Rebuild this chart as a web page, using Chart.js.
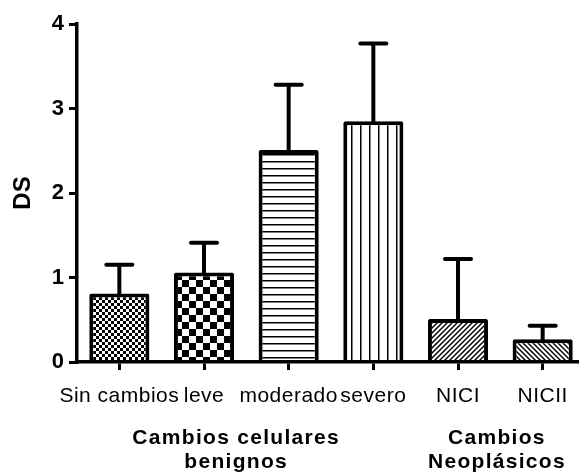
<!DOCTYPE html>
<html>
<head>
<meta charset="utf-8">
<script src="https://cdn.jsdelivr.net/npm/chart.js@4/dist/chart.umd.min.js"></script>
<style>
body{margin:0;overflow:hidden;background:#fff;}
#wrap{position:absolute;left:0;top:0;width:585px;height:476px;}
</style>
</head>
<body>
<div id="wrap"><canvas id="myChart"></canvas></div>
<script>
// datos
const categories = ['Sin cambios', 'leve', 'moderado', 'severo', 'NICI', 'NICII'];
const means = [0.81, 1.06, 2.51, 2.85, 0.51, 0.27];
const sd = [0.34, 0.35, 0.77, 0.92, 0.71, 0.16];
const yTicks = [0, 1, 2, 3, 4];
const groups = [['Cambios celulares', 'benignos'], ['Cambios', 'Neoplásicos']];

const FONT = '"Liberation Sans", Arial, sans-serif';

function makePattern(ctx, kind){
    const tile = document.createElement('canvas');
    const g = tile.getContext('2d');
    let s = 6;
    if (kind == 'bigCheck') s = 14;
    if (kind == 'hLines') s = 7;
    if (kind == 'vLines') s = 9;
    if (kind == 'diagUp' || kind == 'diagDown') s = 5;
    tile.width = s; tile.height = s;
    g.fillStyle = '#fff';
    g.fillRect(0, 0, s, s);
    g.fillStyle = '#000';
    g.strokeStyle = '#000';
    if (kind == 'smallCheck' || kind == 'bigCheck') {
        const h = s / 2;
        g.fillRect(0, 0, h, h);
        g.fillRect(h, h, h, h);
    } else if (kind == 'hLines') {
        g.fillRect(0, 0, s, 1.5);
    } else if (kind == 'vLines') {
        g.fillRect(0, 0, 1.5, s);
    } else {
        g.lineWidth = 1.4;
        const segs = kind == 'diagUp'
            ? [[-1, 1, 1, -1], [0, s, s, 0], [s - 1, s + 1, s + 1, s - 1]]
            : [[-1, s - 1, 1, s + 1], [0, 0, s, s], [s - 1, -1, s + 1, 1]];
        segs.forEach(p => {
            g.beginPath();
            g.moveTo(p[0], p[1]);
            g.lineTo(p[2], p[3]);
            g.stroke();
        });
    }
    return ctx.createPattern(tile, 'repeat');
}

const errorBars = {
    id: 'errorBars',
    afterDatasetsDraw(chart){
        const ctx = chart.ctx;
        const yScale = chart.scales.y;
        const meta = chart.getDatasetMeta(0);
        ctx.save();
        ctx.strokeStyle = '#000';
        ctx.lineWidth = 4;
        meta.data.forEach((bar, i) => {
            const top = yScale.getPixelForValue(means[i] + sd[i]);
            ctx.lineCap = 'butt';
            ctx.beginPath();
            ctx.moveTo(bar.x, bar.y + 2);
            ctx.lineTo(bar.x, top);
            ctx.stroke();
            const half = bar.width / 4 - 2;
            ctx.lineCap = 'round';
            ctx.beginPath();
            ctx.moveTo(bar.x - half, top);
            ctx.lineTo(bar.x + half, top);
            ctx.stroke();
        });
        ctx.restore();
    }
};

// el texto del original sale algo espaciado
function spaceLabels(scale, spacing){
    const base = scale.drawLabels.bind(scale);
    scale.drawLabels = function(area){
        const c = this.ctx;
        c.save();
        c.letterSpacing = spacing;
        base(area);
        c.restore();
    };
}

function getChart(){
    const canvas = document.getElementById('myChart');
    const ctx = canvas.getContext('2d');
    const fills = ['smallCheck', 'bigCheck', 'hLines', 'vLines', 'diagUp', 'diagDown']
        .map(k => makePattern(ctx, k));

    const chart = new Chart(ctx, {
        type: 'bar',
        data: {
            labels: categories,
            datasets: [{
                data: means,
                backgroundColor: fills,
                borderColor: '#000',
                borderWidth: 4,
                borderRadius: 2,
                borderSkipped: 'start',
                barPercentage: 0.71,
                categoryPercentage: 1
            }]
        },
        options: {
            responsive: true,
            maintainAspectRatio: false,
            animation: false,
            layout: { padding: { top: 24, left: 0, right: 0, bottom: 0 } },
            plugins: { legend: { display: false }, tooltip: { enabled: false } },
            scales: {
                y: {
                    min: 0,
                    max: 4,
                    afterBuildTicks: (scale) => { scale.ticks = yTicks.map(v => ({ value: v })); },
                    afterFit: (scale) => { scale.width = 77; },
                    grid: { drawOnChartArea: false, color: '#000', lineWidth: 3, tickLength: 8 },
                    border: { color: '#000', width: 3.5, z: 1 },
                    ticks: { color: '#000', padding: 5, font: { family: FONT, size: 22, weight: 'bold' } },
                    title: {
                        display: true,
                        text: 'DS',
                        color: '#000',
                        padding: { top: 9, bottom: 0 },
                        font: { family: FONT, size: 24, weight: 'bold', lineHeight: 1.2 }
                    }
                },
                x: {
                    offset: true,
                    afterFit: (scale) => { scale.height = 47; },
                    grid: { drawOnChartArea: false, offset: false, color: '#000', lineWidth: 3, tickLength: 8 },
                    border: { color: '#000', width: 3.5, z: 1 },
                    ticks: {
                        color: '#000',
                        padding: 14,
                        maxRotation: 0,
                        autoSkip: false,
                        font: { family: FONT, size: 21, lineHeight: 1.2 }
                    }
                },
                xg: {
                    type: 'linear',
                    position: 'bottom',
                    offset: false,
                    weight: 2,
                    min: -0.5,
                    max: 5.5,
                    // centro de cada grupo, en unidades de categoria
                    afterBuildTicks: (scale) => { scale.ticks = [1.38, 4.46].map(v => ({ value: v })); },
                    afterFit: (scale) => { scale.height = 67; },
                    grid: { display: false, drawTicks: false, offset: false },
                    border: { display: false },
                    ticks: {
                        color: '#000',
                        padding: 16.5,
                        maxRotation: 0,
                        autoSkip: false,
                        font: { family: FONT, size: 21, weight: 'bold', lineHeight: 1.17 },
                        callback: (v, i) => groups[i]
                    }
                }
            }
        },
        plugins: [errorBars]
    });

    spaceLabels(chart.scales.x, '0.5px');
    spaceLabels(chart.scales.xg, '1.3px');
    chart.draw();
}

document.addEventListener('DOMContentLoaded', (event) => {
    getChart();
});
</script>
</body>
</html>
